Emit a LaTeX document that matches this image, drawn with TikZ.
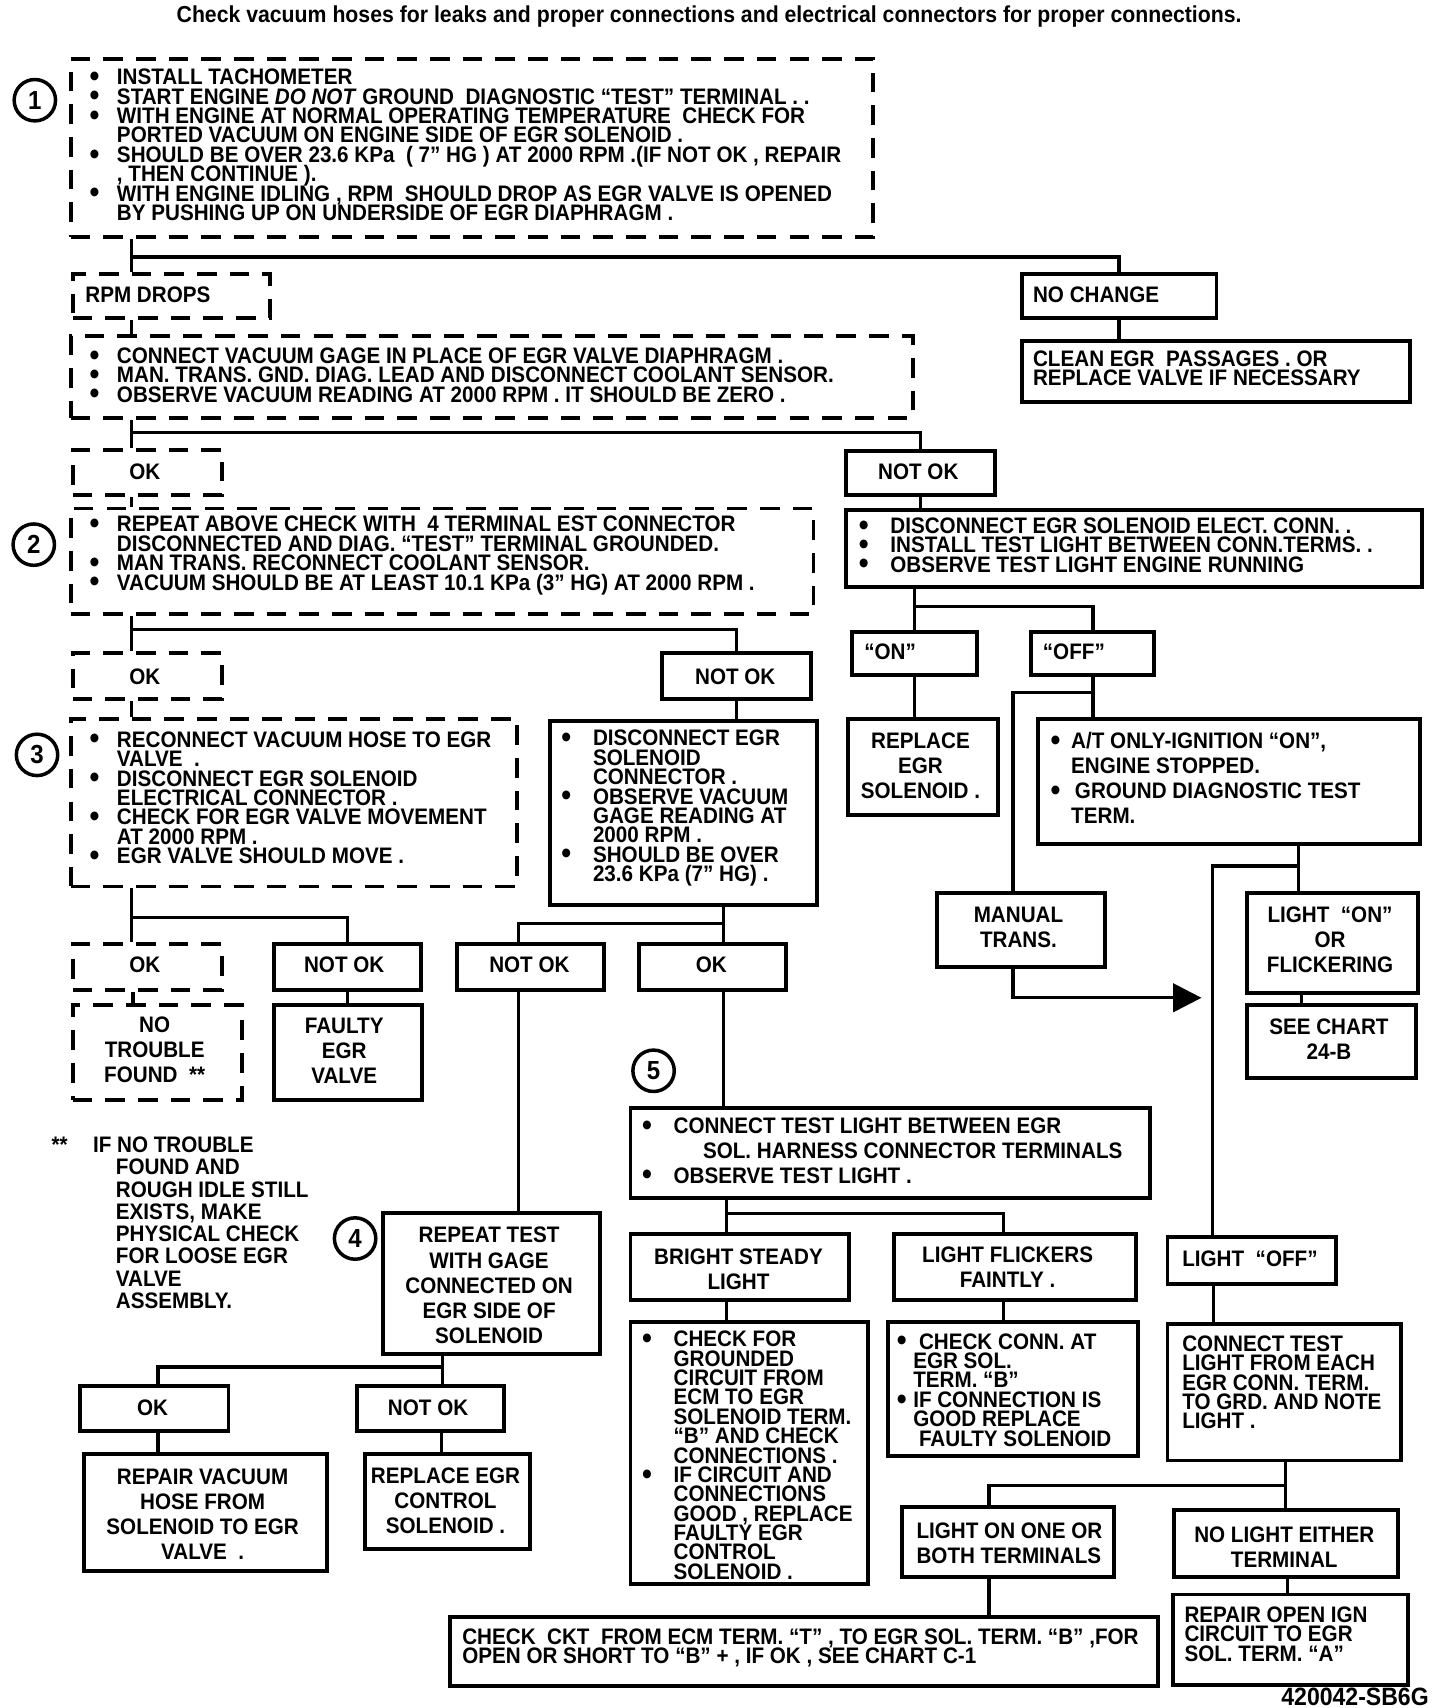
\documentclass[tikz,border=0pt]{standalone}
\usepackage{fontspec}
\setmainfont{Liberation Sans}[FakeStretch=0.92]
\usetikzlibrary{arrows.meta}
\lineskiplimit=-100pt
\lineskip=0pt
\newcommand\bl[1][8pt]{\makebox[0pt][r]{\raisebox{-0.8pt}{\fontsize{14}{14}\selectfont\textbullet}\hspace{#1}}}
\newcommand\bx[6]{\pgfmathsetmacro\bxw{(#5-#3)*0.5}\pgfmathsetmacro\bxh{(#6-#4)*0.5}\node[#1, anchor=north west, minimum width=\bxw pt, minimum height=\bxh pt] (#2) at (#3,#4) {};}
\tikzset{
  every node/.style={font=\bfseries\fontsize{10.3}{8.9}\selectfont, inner sep=0pt},
  sbox/.style={draw, line width=1.8pt},
  dbox/.style={draw, line width=1.8pt, dash pattern=on 9pt off 6pt},
  tl/.style={align=left, anchor=west},
  tll/.style={align=left, anchor=west, font=\bfseries\fontsize{10.3}{11.4}\selectfont},
  tc/.style={align=center, font=\bfseries\fontsize{10.3}{11.5}\selectfont},
  conn/.style={line width=1.5pt},
  circ/.style={draw, circle, line width=1.6pt, minimum size=19pt, font=\bfseries\fontsize{12}{12}\selectfont},
  ttl/.style={font=\bfseries\fontsize{10.6}{12}\selectfont},
}
\begin{document}
\lineskiplimit=-100pt
\begin{tikzpicture}[x=0.5pt, y=-0.5pt]
\path[use as bounding box, fill=white] (0,0) rectangle (1322,1568);

\node[ttl] (title) at (651,15) {Check vacuum hoses for leaks and proper connections and electrical connectors for proper connections.};

\node[circ] (c1) at (32,92) {1};
\node[circ] (c2) at (31,500) {2};
\node[circ] (c3) at (34,693) {3};
\node[circ] (c4) at (326,1137) {4};
\node[circ] (c5) at (600,983) {5};

% box 1
\bx{dbox}{b1}{63}{52}{800}{216}
\node[tl] (b1t) at (107,133) {\bl INSTALL TACHOMETER\\
\bl START ENGINE \textit{DO NOT} GROUND\ \ DIAGNOSTIC ``TEST'' TERMINAL . .\\
\bl WITH ENGINE AT NORMAL OPERATING TEMPERATURE\ \ CHECK FOR\\
PORTED VACUUM ON ENGINE SIDE OF EGR SOLENOID .\\
\bl SHOULD BE OVER 23.6 KPa\ \ ( 7'' HG ) AT 2000 RPM .(IF NOT OK , REPAIR\\
, THEN CONTINUE ).\\
\bl WITH ENGINE IDLING , RPM\ \ SHOULD DROP AS EGR VALVE IS OPENED\\
BY PUSHING UP ON UNDERSIDE OF EGR DIAPHRAGM .};

\bx{dbox}{rpm}{65}{250}{246}{290}
\node[tl] (rpmt) at (78,271) {RPM DROPS};
\bx{sbox}{noch}{936}{250}{1115}{290}
\node[tl] (noct) at (948,271) {NO CHANGE};
\bx{sbox}{clean}{936}{311}{1293}{367}
\node[tl] (cleant) at (948,338) {CLEAN EGR\ \ PASSAGES . OR\\REPLACE VALVE IF NECESSARY};

\bx{dbox}{b2}{63}{307}{836}{382}
\node[tl] (b2t) at (107,345) {\bl CONNECT VACUUM GAGE IN PLACE OF EGR VALVE DIAPHRAGM .\\
\bl MAN. TRANS. GND. DIAG. LEAD AND DISCONNECT COOLANT SENSOR.\\
\bl OBSERVE VACUUM READING AT 2000 RPM . IT SHOULD BE ZERO .};

\bx{dbox}{ok1}{65}{411}{202}{453}
\node (ok1t) at (133,433) {OK};
\bx{sbox}{nok1}{775}{412}{912}{453}
\node (nok1t) at (843,433) {NOT OK};

% box 2
\bx{dbox}{b3}{63}{465}{745}{562}
\node[tl] (b3t) at (107,510) {\bl REPEAT ABOVE CHECK WITH\ \ 4 TERMINAL EST CONNECTOR\\
DISCONNECTED AND DIAG. ``TEST'' TERMINAL GROUNDED.\\
\bl MAN TRANS. RECONNECT COOLANT SENSOR.\\
\bl VACUUM SHOULD BE AT LEAST 10.1 KPa (3'' HG) AT 2000 RPM .};

\bx{sbox}{disc}{775}{466}{1304}{537}
\node[tl] (disct) at (817,501) {\bl[10pt]DISCONNECT EGR SOLENOID ELECT. CONN. .\\
\bl[10pt]INSTALL TEST LIGHT BETWEEN CONN.TERMS. .\\
\bl[10pt]OBSERVE TEST LIGHT ENGINE RUNNING};

\bx{sbox}{on}{780}{578}{895}{618}
\node[tl] (ont) at (793,598) {``ON''};
\bx{sbox}{off}{945}{578}{1058}{618}
\node[tl] (offt) at (957,598) {``OFF''};
\bx{sbox}{repsol}{777}{658}{914}{746}
\node[tc] (repsolt) at (845,703) {REPLACE\\EGR\\SOLENOID .};
\bx{sbox}{at}{951}{658}{1302}{773}
\node[tll] (att) at (983,714) {\bl[5pt]A/T ONLY-IGNITION ``ON'',\\
ENGINE STOPPED.\\
\bl[5pt]\,GROUND DIAGNOSTIC TEST\\
TERM.};

\bx{dbox}{ok2}{65}{598}{202}{640}
\node (ok2t) at (133,621) {OK};
\bx{sbox}{nok2}{606}{598}{743}{640}
\node (nok2t) at (675,621) {NOT OK};

% box 3
\bx{dbox}{b4}{63}{658}{473}{812}
\node[tl] (b4t) at (107,733) {\bl RECONNECT VACUUM HOSE TO EGR\\
VALVE\ \ .\\
\bl DISCONNECT EGR SOLENOID\\
ELECTRICAL CONNECTOR .\\
\bl CHECK FOR EGR VALVE MOVEMENT\\
AT 2000 RPM .\\
\bl EGR VALVE SHOULD MOVE .};

\bx{sbox}{disc2}{503}{660}{748}{829}
\node[tl] (disc2t) at (544,742) {\bl[10pt]DISCONNECT EGR\\
SOLENOID\\
CONNECTOR .\\
\bl[10pt]OBSERVE VACUUM\\
GAGE READING AT\\
2000 RPM .\\
\bl[10pt]SHOULD BE OVER\\
23.6 KPa (7'' HG) .};

\bx{sbox}{man}{858}{818}{1013}{886}
\node[tc] (mant) at (935,851) {MANUAL\\TRANS.};
\bx{sbox}{lon}{1143}{818}{1300}{910}
\node[tc] (lont) at (1221,863) {LIGHT\ \ ``ON''\\OR\\FLICKERING};
\bx{sbox}{see}{1143}{921}{1298}{988}
\node[tc] (seet) at (1220,954) {SEE CHART\\24-B};

\bx{dbox}{ok3}{65}{865}{202}{907}
\node (ok3t) at (133,886) {OK};
\bx{sbox}{nok3}{250}{865}{385}{907}
\node (nok3t) at (316,886) {NOT OK};
\bx{dbox}{notr}{65}{921}{220}{1008}
\node[tc] (notrt) at (142,964) {NO\\TROUBLE\\FOUND\ \ **};
\bx{sbox}{faulty}{250}{921}{386}{1008}
\node[tc] (faultyt) at (316,965) {FAULTY\\EGR\\VALVE};
\bx{sbox}{nok4}{418}{865}{553}{907}
\node (nok4t) at (486,886) {NOT OK};
\bx{sbox}{ok4}{585}{865}{720}{907}
\node (ok4t) at (653,886) {OK};

% box 5
\bx{sbox}{b5}{577}{1015}{1054}{1098}
\node[tll] (b5t) at (618,1057) {\bl[10pt]CONNECT TEST LIGHT BETWEEN EGR\\
\hspace{13.5pt}SOL. HARNESS CONNECTOR TERMINALS\\
\bl[10pt]OBSERVE TEST LIGHT .};

\bx{sbox}{bright}{577}{1131}{778}{1192}
\node[tc] (brightt) at (678,1165) {BRIGHT STEADY\\LIGHT};
\bx{sbox}{flick}{819}{1131}{1041}{1192}
\node[tc] (flickt) at (925,1163) {LIGHT FLICKERS\\FAINTLY .};
\bx{sbox}{loff}{1070}{1134}{1225}{1177}
\node[tl] (lofft) at (1085,1156) {LIGHT\ \ ``OFF''};

\bx{sbox}{chk}{577}{1212}{795}{1452}
\node[tl] (chkt) at (618,1336) {\bl[10pt]CHECK FOR\\
GROUNDED\\
CIRCUIT FROM\\
ECM TO EGR\\
SOLENOID TERM.\\
``B'' AND CHECK\\
CONNECTIONS .\\
\bl[10pt]IF CIRCUIT AND\\
CONNECTIONS\\
GOOD , REPLACE\\
FAULTY EGR\\
CONTROL\\
SOLENOID .};

\bx{sbox}{chkconn}{813}{1212}{1043}{1335}
\node[tl] (chkconnt) at (838,1276) {\bl[3pt]\ CHECK CONN. AT\\
EGR SOL.\\
TERM. ``B''\\
\bl[3pt]IF CONNECTION IS\\
GOOD REPLACE\\
\ FAULTY SOLENOID};

\bx{sbox}{ct}{1070}{1214}{1284}{1339}
\node[tl] (ctt) at (1085,1269) {CONNECT TEST\\
LIGHT FROM EACH\\
EGR CONN. TERM.\\
TO GRD. AND NOTE\\
LIGHT .};

\bx{sbox}{lone}{826}{1382}{1021}{1446}
\node[tll] (lonet) at (841,1417) {LIGHT ON ONE OR\\BOTH TERMINALS};
\bx{sbox}{nol}{1076}{1384}{1282}{1446}
\node[tc] (nolt) at (1179,1420) {NO LIGHT EITHER\\TERMINAL};
\bx{sbox}{ropen}{1075}{1462}{1291}{1545}
\node[tl] (ropent) at (1087,1500) {REPAIR OPEN IGN\\
CIRCUIT TO EGR\\
SOL. TERM. ``A''};
\bx{sbox}{ckt}{411}{1483}{1061}{1546}
\node[tl] (cktt) at (424,1513) {CHECK\ \ CKT\ \ FROM ECM TERM. ``T'' , TO EGR SOL. TERM. ``B'' ,FOR\\
OPEN OR SHORT TO ``B'' + , IF OK , SEE CHART C-1};

% box 4
\bx{sbox}{rept}{350}{1112}{549}{1241}
\node[tc] (reptt) at (449,1180) {REPEAT TEST\\WITH GAGE\\CONNECTED ON\\EGR SIDE OF\\SOLENOID};
\bx{sbox}{ok5}{72}{1271}{208}{1312}
\node (ok5t) at (140,1292) {OK};
\bx{sbox}{nok5}{326}{1271}{461}{1312}
\node (nok5t) at (393,1292) {NOT OK};
\bx{sbox}{rvac}{75}{1333}{298}{1440}
\node[tc] (rvact) at (186,1390) {REPAIR VACUUM\\HOSE FROM\\SOLENOID TO EGR\\VALVE\ \ .};
\bx{sbox}{rctl}{333}{1333}{485}{1420}
\node[tc] (rctlt) at (409,1378) {REPLACE EGR\\CONTROL\\SOLENOID .};

% footnote
\node[anchor=west] (fnstar) at (47,1051) {**};
\node[align=left, anchor=west, font=\bfseries\fontsize{10.3}{10.2}\selectfont] (fn) at (85,1122.5) {IF NO TROUBLE\\
\hspace{10.5pt}FOUND AND\\
\hspace{10.5pt}ROUGH IDLE STILL\\
\hspace{10.5pt}EXISTS, MAKE\\
\hspace{10.5pt}PHYSICAL CHECK\\
\hspace{10.5pt}FOR LOOSE EGR\\
\hspace{10.5pt}VALVE\\
\hspace{10.5pt}ASSEMBLY.};

\node[anchor=east, font=\bfseries\fontsize{11.5}{12}\selectfont] (code) at (1312,1558) {420042-SB6G};

% connectors
\draw[conn] (b1.south -| 121,0) -- (rpm.north -| 121,0);
\draw[conn] (b1.south -| 121,0) |- (noch.north |- 0,236) -- (noch.north);
\draw[conn] (noch.south) -- (noch.south |- clean.north);
\draw[conn] (rpm.south -| 121,0) -- (b2.north -| 121,0);
\draw[conn] (b2.south -| 121,0) -- (ok1.north -| 121,0);
\draw[conn] (b2.south -| 121,0) |- (nok1.north |- 0,397) -- (nok1.north);
\draw[conn] (ok1.south -| 121,0) -- (b3.north -| 121,0);
\draw[conn] (nok1.south) -- (nok1.south |- disc.north);
\draw[conn] (disc.south -| on.north) -- (on.north);
\draw[conn] (on.north |- 0,557) -| (off.north);
\draw[conn] (on.south) -- (on.south |- repsol.north);
\draw[conn] (off.south) -- (off.south |- at.north);
\draw[conn] (off.south |- 0,636) -| (man.north -| 930,0);
\draw[conn] (at.south -| 1192,0) -- (lon.north -| 1192,0);
\draw[conn] (at.south -| 1192,0) |- (1113,795) -- (loff.north -| 1113,0);
\draw[conn] (lon.south -| 1195,0) -- (see.north -| 1195,0);
\coordinate (arrtip) at (1103,916);
\draw[conn, -{Triangle[length=13pt,width=13pt]}] (man.south -| 930,0) |- (arrtip);

\draw[conn] (b3.south -| 121,0) -- (ok2.north -| 121,0);
\draw[conn] (b3.south -| 121,0) |- (nok2.north |- 0,578) -- (nok2.north);
\draw[conn] (ok2.south -| 121,0) -- (b4.north -| 121,0);
\draw[conn] (nok2.south) -- (nok2.south |- disc2.north);
\draw[conn] (b4.south -| 121,0) -- (ok3.north -| 121,0);
\draw[conn] (b4.south -| 121,0) |- (nok3.north |- 0,842) -- (nok3.north);
\draw[conn] (ok3.south -| 122,0) -- (notr.north -| 122,0);
\draw[conn] (nok3.south) -- (nok3.south |- faulty.north);
\draw[conn] (disc2.south -| 664,0) -- (ok4.north -| 664,0);
\draw[conn] (disc2.south -| 664,0) |- (476,848) -- (nok4.north -| 476,0);
\draw[conn] (nok4.south -| 476,0) -- (rept.north -| 476,0);
\draw[conn] (ok4.south -| 664,0) -- (b5.north -| 664,0);
\draw[conn] (b5.south -| 667,0) -- (bright.north -| 667,0);
\draw[conn] (b5.south -| 667,0) |- (921,1114) -- (flick.north -| 921,0);
\draw[conn] (bright.south -| 667,0) -- (chk.north -| 667,0);
\draw[conn] (flick.south -| 921,0) -- (chkconn.north -| 921,0);
\draw[conn] (loff.south -| 1114,0) -- (ct.north -| 1114,0);
\draw[conn] (ct.south -| 1180,0) -- (nol.north -| 1180,0);
\draw[conn] (ct.south -| 1180,0) |- (908,1364) -- (lone.north -| 908,0);
\draw[conn] (nol.south -| 1182,0) -- (ropen.north -| 1182,0);
\draw[conn] (lone.south -| 908,0) -- (ckt.north -| 908,0);
\draw[conn] (rept.south -| 406,0) -- (nok5.north -| 406,0);
\draw[conn] (rept.south -| 406,0) |- (145,1255) -- (ok5.north -| 145,0);
\draw[conn] (ok5.south -| 145,0) -- (rvac.north -| 145,0);
\draw[conn] (nok5.south -| 405,0) -- (rctl.north -| 405,0);
\end{tikzpicture}
\end{document}
